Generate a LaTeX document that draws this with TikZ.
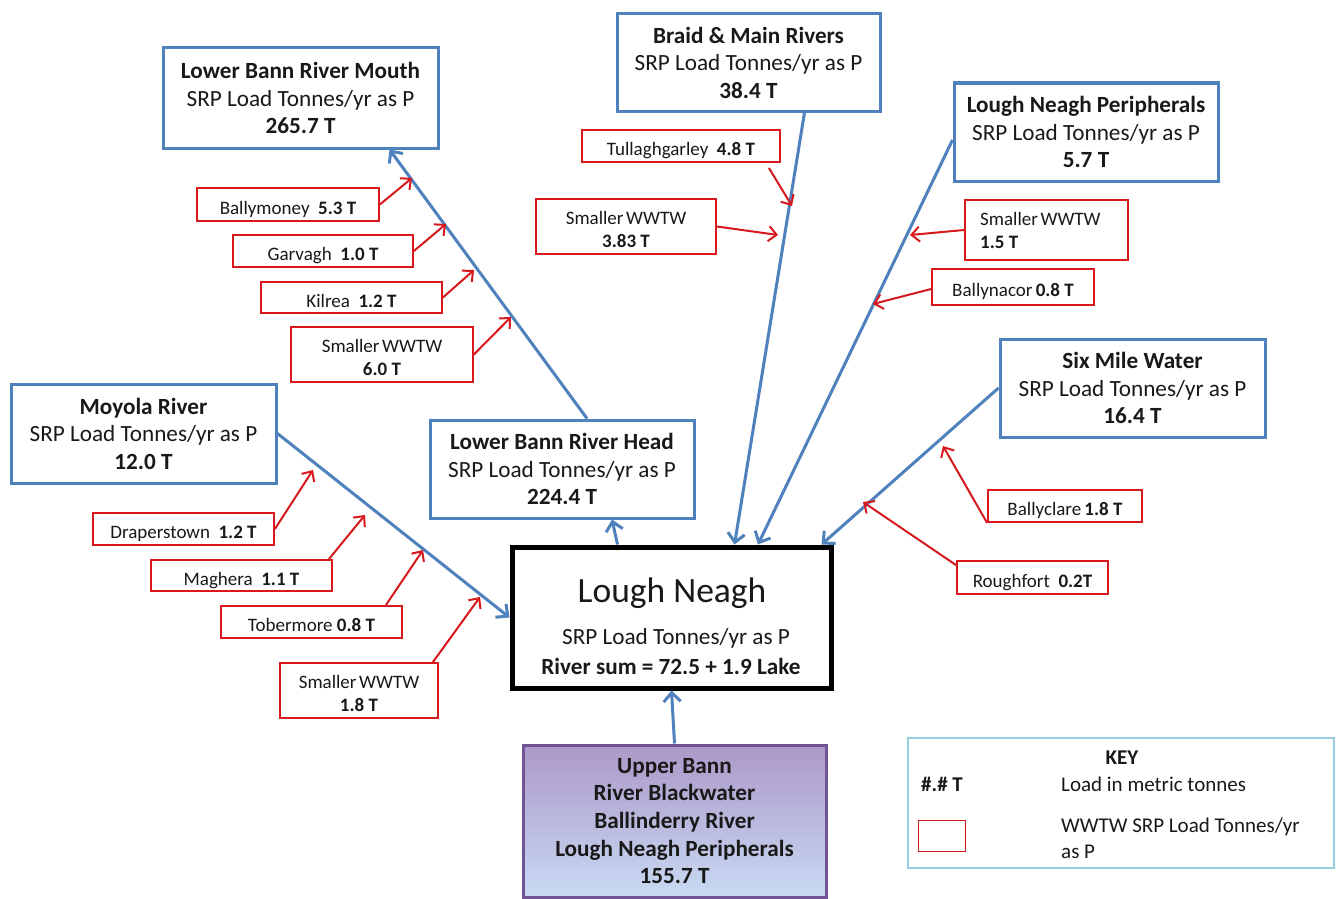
\documentclass[tikz,border=0pt]{standalone}
\usepackage{fontspec}
\setmainfont{Carlito}
\usetikzlibrary{arrows.meta}
\definecolor{riverblue}{RGB}{79,129,189}
\definecolor{wred}{RGB}{215,25,30}
\definecolor{lakepurple}{RGB}{112,84,150}
\definecolor{gradtop}{RGB}{172,152,200}
\definecolor{gradbot}{RGB}{200,218,243}
\definecolor{keyteal}{RGB}{150,205,220}
\definecolor{ink}{RGB}{25,25,25}
\newcommand{\tightsp}{\kern0.14em}
\begin{document}
\begin{tikzpicture}[x=1pt,y=-1pt,
  river/.style={draw=riverblue, line width=3pt, fill=white, inner sep=0pt, align=center, text=ink, font=\fontsize{23.2}{27.5}\selectfont},
  wwtw/.style={draw=wred, line width=1.8pt, fill=white, inner sep=0pt, align=center, text=ink, font=\fontsize{19}{23}\selectfont},
  wline/.style={text height=21pt, text depth=2pt},
  wtwo/.style={text height=45pt, text depth=4pt},
  lbl/.style={inner sep=0pt, text=ink},
  flow/.style={draw=riverblue, line width=3pt, -{Straight Barb[length=9pt,width=17pt,line width=3pt]}},
  feed/.style={draw=wred, line width=2pt, -{Straight Barb[length=8pt,width=15pt,line width=2pt]}},
]
\useasboundingbox (0,0) rectangle (1336,899);
\fill[white] (0,0) rectangle (1336,899);

% river catchment boxes
\node[river, minimum width=275pt, minimum height=100pt] (mouth) at (300.5,98)
  {\textbf{Lower Bann River Mouth}\\SRP Load Tonnes/yr as P\\\textbf{265.7 T}};
\node[river, minimum width=263pt, minimum height=97pt] (braid) at (748.5,62.5)
  {\textbf{Braid \& Main Rivers}\\SRP Load Tonnes/yr as P\\\textbf{38.4 T}};
\node[river, minimum width=264pt, minimum height=98pt] (peri) at (1086,132)
  {\textbf{Lough Neagh Peripherals}\\SRP Load Tonnes/yr as P\\\textbf{5.7 T}};
\node[river, minimum width=265pt, minimum height=98pt] (six) at (1132.5,388)
  {\textbf{Six Mile Water}\\SRP Load Tonnes/yr as P\\\textbf{16.4 T}};
\node[river, minimum width=265pt, minimum height=99pt] (moyola) at (143.5,433.5)
  {\textbf{Moyola River}\\SRP Load Tonnes/yr as P\\\textbf{12.0 T}};
\node[river, minimum width=264pt, minimum height=98pt] (head) at (562,469)
  {\textbf{Lower Bann River Head}\\SRP Load Tonnes/yr as P\\\textbf{224.4 T}};

% the lake
\node[draw=black, line width=5pt, fill=white, minimum width=319pt, minimum height=141pt] (lough) at (671.5,617.5) {};
\node[lbl, font=\fontsize{35.5}{40}\selectfont] (lnname) at (672,593) {Lough Neagh};
\node[lbl, font=\fontsize{23.2}{27}\selectfont] (lnsrp) at (676,638) {SRP Load Tonnes/yr as P};
\node[lbl, font=\bfseries\fontsize{23.2}{27}\selectfont] (lnsum) at (671,666) {River sum = 72.5 + 1.9 Lake};

% southern catchments
\node[draw=lakepurple, line width=3pt, top color=gradtop, bottom color=gradbot,
  minimum width=303pt, minimum height=152pt, inner sep=0pt, align=center, text=ink,
  font=\bfseries\fontsize{23.2}{27.6}\selectfont] (upper) at (674.5,821)
  {Upper Bann\\River Blackwater\\Ballinderry River\\Lough Neagh Peripherals\\155.7 T};

% WWTW boxes
\node[wwtw, wline, minimum width=182pt, minimum height=33pt] (bmoney) at (288,204.5) {Ballymoney \ \textbf{5.3 T}};
\node[wwtw, wline, minimum width=180pt, minimum height=32pt] (garvagh) at (323,251) {Garvagh \ \textbf{1.0 T}};
\node[wwtw, wline, minimum width=181pt, minimum height=31pt] (kilrea) at (351.5,297.5) {Kilrea \ \textbf{1.2 T}};
\node[wwtw, wtwo, minimum width=182pt, minimum height=55pt] (smsix) at (382,354.5) {Smaller\tightsp WWTW\\\textbf{6.0 T}};
\node[wwtw, wline, minimum width=198pt, minimum height=32pt] (tull) at (681,146) {Tullaghgarley \ \textbf{4.8 T}};
\node[wwtw, wtwo, minimum width=180pt, minimum height=55pt] (smbraid) at (626,226.5) {Smaller\tightsp WWTW\\\textbf{3.83 T}};
\node[wwtw, minimum width=163pt, minimum height=60pt] (smperi) at (1046.5,230) {};
\node[lbl, anchor=west, align=left, font=\fontsize{19}{23}\selectfont] (smperitext) at (980,230) {Smaller\tightsp WWTW\\\textbf{1.5 T}};
\node[wwtw, wline, minimum width=162pt, minimum height=36pt] (bnacor) at (1013,287) {Ballynacor\,\textbf{0.8 T}};
\node[wwtw, wline, minimum width=154pt, minimum height=32pt] (bclare) at (1065,506) {Ballyclare\,\textbf{1.8 T}};
\node[wwtw, wline, minimum width=151pt, minimum height=33pt] (rfort) at (1032.5,577.5) {Roughfort \ \textbf{0.2T}};
\node[wwtw, wline, minimum width=181pt, minimum height=32pt] (draper) at (183.5,529) {Draperstown \ \textbf{1.2 T}};
\node[wwtw, wline, minimum width=181pt, minimum height=31pt] (maghera) at (241.5,575.5) {Maghera \ \textbf{1.1 T}};
\node[wwtw, wline, minimum width=181pt, minimum height=32pt] (tober) at (311.5,622) {Tobermore \textbf{0.8 T}};
\node[wwtw, wtwo, minimum width=158pt, minimum height=55pt] (smmoy) at (359,690.5) {Smaller\tightsp WWTW\\\textbf{1.8 T}};

% river flows
\draw[flow] ([xshift=25pt]head.north) -- ([xshift=-50pt]mouth.south east);
\draw[flow] ([xshift=-54pt]lough.north) -- ([xshift=50pt]head.south);
\draw[flow] (moyola.east) -- (lough.west);
\draw[flow] ([xshift=56pt]braid.south) -- ([xshift=63pt]lough.north);
\draw[flow] ([yshift=-8pt]peri.west) -- ([xshift=86.5pt]lough.north);
\draw[flow] (six.west) -- ([xshift=-12pt]lough.north east);
\draw[flow] (upper.north) -- (lough.south);

% points where treatment works discharge into the rivers
\coordinate (inbm) at (412,178);
\coordinate (inga) at (446,224);
\coordinate (inki) at (474,270);
\coordinate (insm) at (511,317);
\coordinate (intu) at (792,206);
\coordinate (insb) at (778,235);
\coordinate (insp) at (910,235);
\coordinate (inbn) at (873,304);
\coordinate (inbc) at (943,446);
\coordinate (inrf) at (863,502);
\coordinate (indr) at (313,470);
\coordinate (inma) at (365,515);
\coordinate (into) at (423,550);
\coordinate (inmo) at (480,597);

\draw[feed] (bmoney.east) -- (inbm);
\draw[feed] (garvagh.east) -- (inga);
\draw[feed] (kilrea.east) -- (inki);
\draw[feed] (smsix.east) -- (insm);
\draw[feed] ([xshift=-12pt,yshift=-5pt]tull.south east) -- (intu);
\draw[feed] (smbraid.east) -- (insb);
\draw[feed] (smperi.west) -- (insp);
\draw[feed] ([yshift=-2pt]bnacor.west) -- (inbn);
\draw[feed] (bclare.south west) -- (inbc);
\draw[feed] ([yshift=-5pt]rfort.north west) -- (inrf);
\draw[feed] (draper.east) -- (indr);
\draw[feed] ([xshift=-4pt]maghera.north east) -- (inma);
\draw[feed] ([xshift=-17pt]tober.north east) -- (into);
\draw[feed] ([xshift=-6pt]smmoy.north east) -- (inmo);

% key
\node[draw=keyteal, line width=1.5pt, minimum width=426pt, minimum height=130pt, inner sep=0pt] (keybox) at (1121,803) {};
\node[lbl, font=\bfseries\fontsize{21}{25}\selectfont] (keyhead) at (1122,758) {KEY};
\node[lbl, anchor=west, font=\bfseries\fontsize{21}{25}\selectfont] (keyhash) at (921,784) {\#.\# T};
\node[lbl, anchor=west, font=\fontsize{21}{25}\selectfont] (keyload) at (1061,784) {Load in metric tonnes};
\node[draw=wred, line width=1.8pt, minimum width=47pt, minimum height=31pt, inner sep=0pt] (keysq) at (942,836) {};
\node[lbl, anchor=north west, align=left, font=\fontsize{21}{26}\selectfont] (keywwtw) at (1061,818) {WWTW SRP Load Tonnes/yr\\as P};
\end{tikzpicture}
\end{document}
